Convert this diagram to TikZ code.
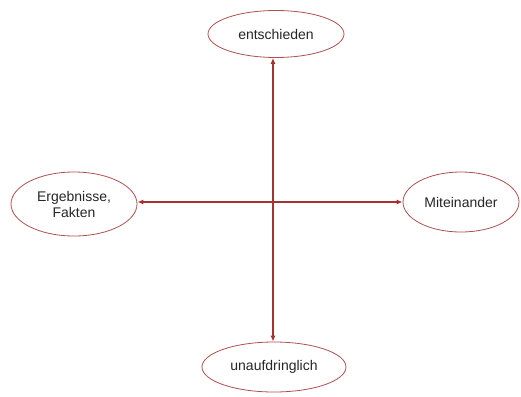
\documentclass[tikz,border=0pt]{standalone}
\usepackage{fontspec}
\setmainfont{Liberation Sans}
\usetikzlibrary{shapes.geometric,arrows.meta}
\definecolor{arrowred}{RGB}{165,50,45}
\definecolor{rimred}{RGB}{175,80,80}
\tikzset{
  oval/.style={ellipse, draw=rimred, line width=0.8pt, fill=white, inner sep=0pt, align=center, font=\fontsize{14}{16}\selectfont, text=black!85},
  link/.style={draw=arrowred, line width=1.6pt, {Latex[length=6pt,width=5pt]}-{Latex[length=6pt,width=5pt]}}
}
\begin{document}
\begin{tikzpicture}[x=1pt,y=-1pt]
\useasboundingbox (0,0) rectangle (521,396);
\node[oval, minimum width=136pt, minimum height=47pt] (top) at (276,34) {entschieden};
\node[oval, minimum width=126pt, minimum height=64pt] (left) at (74,204) {Ergebnisse,\\Fakten};
\node[oval, minimum width=116pt, minimum height=60pt] (right) at (461,202) {Miteinander};
\node[oval, minimum width=144pt, minimum height=50pt] (bottom) at (274,367) {unaufdringlich};
\coordinate (vx) at (273,0);
\draw[link] (top.south -| vx) -- (bottom.north -| vx);
\draw[link] (left.east |- 0,202) -- (right.west |- 0,202);
\end{tikzpicture}
\end{document}
